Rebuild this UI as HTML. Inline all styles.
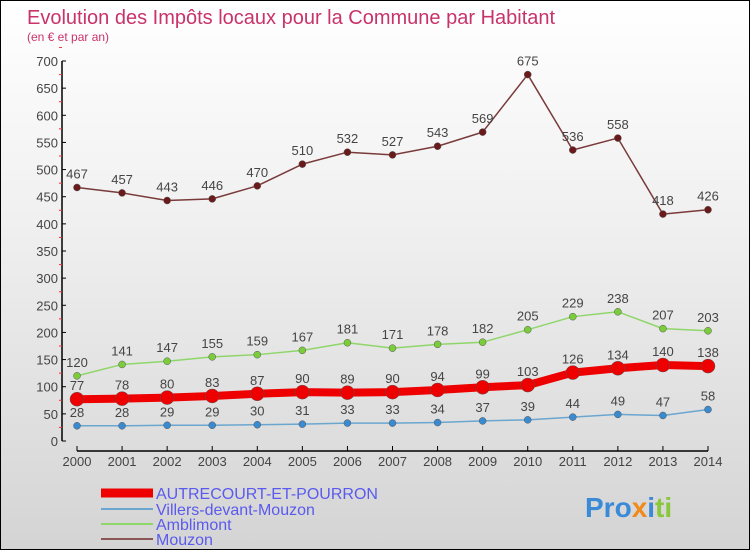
<!DOCTYPE html>
<html><head><meta charset="utf-8"><style>
body{margin:0}
#c{position:relative;width:748px;height:548px;border:1px solid #000;background:linear-gradient(#fff,#f0f0f0 40%,#d4d4d4);overflow:hidden;font-family:"Liberation Sans",sans-serif}
</style></head><body>
<div id="c">
<svg width="748" height="548" xmlns="http://www.w3.org/2000/svg" id="svg">
<text x="26" y="23" font-size="20" fill="#c8336a">Evolution des Impôts locaux pour la Commune par Habitant</text>
<text x="26" y="40" font-size="12" fill="#c8336a">(en € et par an)</text>
<g id="axes"></g><g id="series"></g>
<g>
<line x1="100" y1="492" x2="152" y2="492" stroke="#e00" stroke-width="9"/>
<text x="155" y="498" font-size="16" fill="#5a5aee">AUTRECOURT-ET-POURRON</text>
<line x1="100" y1="508" x2="152" y2="508" stroke="#6aa6d0" stroke-width="2"/>
<text x="155" y="514" font-size="16" fill="#5a5aee">Villers-devant-Mouzon</text>
<line x1="100" y1="523" x2="152" y2="523" stroke="#8fd66a" stroke-width="2"/>
<text x="155" y="529" font-size="16" fill="#5a5aee">Amblimont</text>
<line x1="100" y1="538" x2="152" y2="538" stroke="#8a5555" stroke-width="2"/>
<text x="155" y="544" font-size="16" fill="#5a5aee">Mouzon</text>
</g>
<text x="584" y="516" font-size="28" font-weight="bold"><tspan fill="#3a8ad8">Pro</tspan><tspan fill="#f08a1a">x</tspan><tspan fill="#3a8ad8">i</tspan><tspan fill="#8ac83a">ti</tspan></text>
</svg></div>
<script>
const years=[2000,2001,2002,2003,2004,2005,2006,2007,2008,2009,2010,2011,2012,2013,2014];
const yTicks=[0,50,100,150,200,250,300,350,400,450,500,550,600,650,700];
const autrecourt=[77,78,80,83,87,90,89,90,94,99,103,126,134,140,138];
const villers=[28,28,29,29,30,31,33,33,34,37,39,44,49,47,58];
const amblimont=[120,141,147,155,159,167,181,171,178,182,205,229,238,207,203];
const mouzon=[467,457,443,446,470,510,532,527,543,569,675,536,558,418,426];
const NS="http://www.w3.org/2000/svg";
const x=i=>76+i*(707-76)/(years.length-1);
const y=v=>440-v*380/700;
function mk(tag,attrs,parent){const e=document.createElementNS(NS,tag);for(const k in attrs)e.setAttribute(k,attrs[k]);parent.appendChild(e);return e;}
const ax=document.getElementById('axes');
let yl=mk('line',{x1:61,y1:60,x2:61,y2:440,stroke:'#000','stroke-width':1.5},ax);


yTicks.forEach(v=>{
 mk('line',{x1:61,y1:y(v),x2:65,y2:y(v),stroke:'#000'},ax);
 mk('line',{x1:58,y1:y(v+25),x2:61,y2:y(v+25),stroke:'#e33'},ax);
 const t=mk('text',{x:57,y:y(v)+5,'font-size':13,fill:'#444','text-anchor':'end'},ax);t.textContent=v;
 
 
});
let xl=mk('line',{x1:76,y1:450,x2:707,y2:450,stroke:'#000','stroke-width':1.5},ax);


years.forEach((yr,i)=>{
 mk('line',{x1:x(i),y1:445,x2:x(i),y2:450,stroke:'#000'},ax);
 const t=mk('text',{x:x(i),y:465,'font-size':13,fill:'#444','text-anchor':'middle'},ax);t.textContent=yr;
 
 
});
const sg=document.getElementById('series');
function series(name,data,color,w,r,dot){
 const g=mk('g',{},sg);
 
 
 mk('polyline',{points:data.map((v,i)=>x(i)+','+y(v)).join(' '),fill:'none',stroke:color,'stroke-width':w,'stroke-linejoin':'round'},g);
 data.forEach((v,i)=>{
  const c=mk('circle',{cx:x(i),cy:y(v),r:r,fill:dot,stroke:'#555','stroke-width':0.5},g);
  
  
  const t=mk('text',{x:x(i),y:y(v)-9,'font-size':13,fill:'#444','text-anchor':'middle'},g);t.textContent=v;
  
  
 });
}
series('mouzon',mouzon,'#7a3a3a',1.5,3.5,'#6a1a1a');
series('amblimont',amblimont,'#8fd66a',1.5,3.5,'#7acc3a');
series('villers',villers,'#6aa6d0',1.5,3.5,'#3a8ad0');
series('autrecourt',autrecourt,'#e00',8,7,'#e00');
</script>
</body></html>
